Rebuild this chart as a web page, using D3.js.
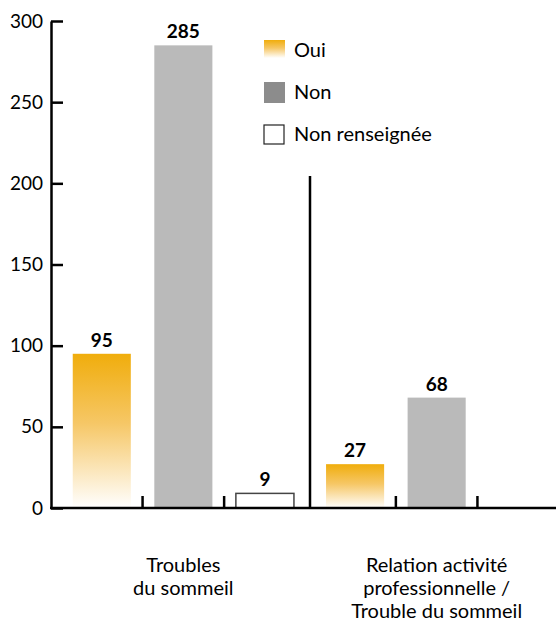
<!DOCTYPE html>
<html>
<head>
<meta charset="utf-8">
<script src="https://cdn.jsdelivr.net/npm/d3@7"></script>
<style>
  body { margin: 0; background: #fff; }
  text { font-family: Lato, "Open Sans", sans-serif; fill: #000; }
  .tick-label { font-size: 19px; }
  .value-label { font-size: 19px; font-weight: bold; }
  .legend-label { font-size: 20px; }
  .group-label { font-size: 20px; }
</style>
</head>
<body>
<div id="chart"></div>
<script>
// Data
const groups = ['Troubles du sommeil', 'Relation activité professionnelle / Trouble du sommeil'];
const groupLines = [['Troubles', 'du sommeil'], ['Relation activité', 'professionnelle /', 'Trouble du sommeil']];
const series = ['Oui', 'Non', 'Non renseignée'];
const oui = [95, 27];
const non = [285, 68];
const nonRenseignee = [9, null];
const yTicks = [0, 50, 100, 150, 200, 250, 300];

const width = 556, height = 623;

const svg = d3.select('#chart').append('svg')
    .attr('width', width)
    .attr('height', height);

// gradient for "Oui"
const defs = svg.append('defs');
const grad = defs.append('linearGradient')
    .attr('id', 'ouiGrad')
    .attr('x1', 0).attr('y1', 0).attr('x2', 0).attr('y2', 1);
grad.append('stop').attr('offset', '0%').attr('stop-color', '#f0ad0c');
grad.append('stop').attr('offset', '45%').attr('stop-color', '#f6c766');
grad.append('stop').attr('offset', '100%').attr('stop-color', '#ffffff');

const yScale = d3.scaleLinear().domain([0, 300]).range([508, 21]);

const x0 = d3.scaleBand()
    .domain(groups)
    .range([61, 559])
    .paddingInner(0.034)
    .paddingOuter(0);

const x1 = d3.scaleBand()
    .domain(series)
    .range([0, x0.bandwidth()])
    .paddingInner(0.288)
    .paddingOuter(0.144);

const fills = {'Oui': 'url(#ouiGrad)', 'Non': '#bababa', 'Non renseignée': '#fff'};
const values = {'Oui': oui, 'Non': non, 'Non renseignée': nonRenseignee};

// flatten
const bars = [];
groups.forEach((g, gi) => {
  series.forEach(s => {
    const v = values[s][gi];
    if (v != null) bars.push({group: g, serie: s, value: v});
  });
});

const chart = svg.append('g');

chart.selectAll('rect.bar')
    .data(bars)
  .join('rect')
    .attr('class', 'bar')
    .attr('x', d => x0(d.group) + x1(d.serie))
    .attr('y', d => yScale(d.value))
    .attr('width', x1.bandwidth())
    .attr('height', d => yScale(0) - yScale(d.value))
    .attr('fill', d => fills[d.serie])
    .attr('stroke', d => d.serie == 'Non renseignée' ? '#444' : 'none')
    .attr('stroke-width', 1.5);

chart.selectAll('text.value-label')
    .data(bars)
  .join('text')
    .attr('class', 'value-label')
    .attr('x', d => x0(d.group) + x1(d.serie) + x1.bandwidth() / 2)
    .attr('y', d => yScale(d.value) - 7)
    .attr('text-anchor', 'middle')
    .text(d => d.value);

// y axis (ticks pointing inside)
const yAxis = d3.axisRight(yScale).tickValues(yTicks).tickSize(12).tickSizeOuter(0).tickFormat('');
const yAxisG = svg.append('g')
    .attr('transform', 'translate(51,0)')
    .call(yAxis);
yAxisG.select('.domain').attr('stroke', '#000').attr('stroke-width', 2.5);
yAxisG.selectAll('.tick line').attr('stroke', '#000').attr('stroke-width', 2.5);

svg.selectAll('text.tick-label')
    .data(yTicks)
  .join('text')
    .attr('class', 'tick-label')
    .attr('x', 43)
    .attr('y', d => yScale(d))
    .attr('dy', '0.35em')
    .attr('text-anchor', 'end')
    .text(d => d);

// baseline
svg.append('line')
    .attr('x1', 50).attr('x2', width)
    .attr('y1', yScale(0)).attr('y2', yScale(0))
    .attr('stroke', '#000').attr('stroke-width', 2.5);

// small ticks between slots
const slotTicks = [];
groups.forEach(g => {
  [1, 2].forEach(i => slotTicks.push(x0(g) + x1.step() * i));
});
svg.selectAll('line.slot-tick')
    .data(slotTicks)
  .join('line')
    .attr('class', 'slot-tick')
    .attr('x1', d => d).attr('x2', d => d)
    .attr('y1', yScale(0)).attr('y2', yScale(0) - 12)
    .attr('stroke', '#000').attr('stroke-width', 2.5);

// separator between groups
const sepX = (x0(groups[0]) + x0.bandwidth() + x0(groups[1])) / 2;
svg.append('line')
    .attr('x1', sepX).attr('x2', sepX)
    .attr('y1', 176).attr('y2', yScale(0))
    .attr('stroke', '#000').attr('stroke-width', 2.5);

// group labels
const gl = svg.selectAll('text.group-label')
    .data(groups)
  .join('text')
    .attr('class', 'group-label')
    .attr('text-anchor', 'middle')
    .attr('x', d => x0(d) + x0.bandwidth() / 2)
    .attr('y', 572);
gl.selectAll('tspan')
    .data((d, i) => groupLines[i])
  .join('tspan')
    .attr('x', function() { return d3.select(this.parentNode).attr('x'); })
    .attr('dy', (d, i) => i == 0 ? 0 : 23)
    .text(d => d);

// legend
const legend = svg.append('g').attr('transform', 'translate(264,40)');
const legendSw = {'Oui': 'url(#ouiGrad)', 'Non': '#8c8c8c', 'Non renseignée': '#fff'};
const li = legend.selectAll('g.legend-item')
    .data(series)
  .join('g')
    .attr('class', 'legend-item')
    .attr('transform', (d, i) => `translate(0, ${i * 42})`);
li.append('rect')
    .attr('width', d => d == 'Non renseignée' ? 20 : 21)
    .attr('height', d => d == 'Oui' ? 18 : (d == 'Non renseignée' ? 19 : 21))
    .attr('y', d => d == 'Non renseignée' ? 1 : 0)
    .attr('fill', d => legendSw[d])
    .attr('stroke', d => d == 'Non renseignée' ? '#222' : 'none')
    .attr('stroke-width', 1.2);
li.append('text')
    .attr('class', 'legend-label')
    .attr('x', 30)
    .attr('y', 10)
    .attr('dy', '0.35em')
    .text(d => d);
</script>
</body>
</html>
